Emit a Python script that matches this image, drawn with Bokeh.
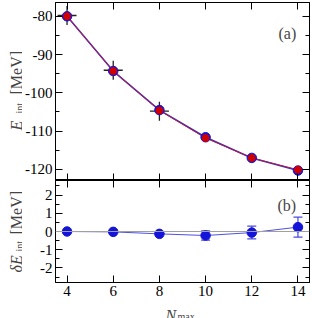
import math
from bokeh.plotting import figure
from bokeh.models import (Range1d, LinearAxis, FixedTicker, Label, Span,
                          ColumnDataSource, Whisker, TeeHead, CustomJSTickFormatter)
from bokeh.layouts import column, row
from bokeh.embed import file_html
from bokeh.resources import INLINE

# ---------------- data ----------------
nmax = [4, 6, 8, 10, 12, 14]
e_blue = [-80.0, -94.3, -104.5, -111.6, -117.0, -120.3]
e_red = [-80.0, -94.3, -104.6, -111.8, -117.0, -120.1]
cross_n = [4, 6, 8]
cross_e = [-79.8, -94.1, -104.8]
de = [0.0, -0.02, -0.13, -0.22, -0.06, 0.24]
de_err = [0.0, 0.0, 0.0, 0.25, 0.35, 0.55]

x_ticks = [4, 6, 8, 10, 12, 14]
y_ticks_top = [-120, -110, -100, -90, -80]
y_minor_top = [-125, -115, -105, -95, -85, -75]
y_ticks_bot = [-2, -1, 0, 1, 2]
y_minor_bot = [-2.5, -1.5, -0.5, 0.5, 1.5, 2.5]

FONT = "Liberation Serif"
BLUE = "#1414d8"
RED = "#d00000"


def style_axis(ax, ticks, minor, labels):
    ax.ticker = FixedTicker(ticks=ticks, minor_ticks=minor)
    ax.major_tick_in = 7
    ax.major_tick_out = 0
    ax.minor_tick_in = 4
    ax.minor_tick_out = 0
    ax.axis_line_color = "black"
    ax.major_tick_line_color = "black"
    ax.minor_tick_line_color = "black" if minor else None
    if labels:
        ax.formatter = CustomJSTickFormatter(code="return String(tick)")
        ax.major_label_text_font = FONT
        ax.major_label_text_font_size = "15px"
        ax.major_label_text_color = "black"
        ax.major_label_standoff = 3
    else:
        ax.major_label_text_color = None
        ax.major_label_text_font_size = "1px"
        ax.major_label_standoff = 0


def make_fig(height, yr, top_border, bottom_border):
    p = figure(width=290, height=height, x_range=Range1d(3.5, 14.5), y_range=yr,
               output_backend="svg", toolbar_location=None,
               x_axis_location=None, y_axis_location=None,
               min_border_left=32, min_border_right=3,
               min_border_top=top_border, min_border_bottom=bottom_border)
    p.outline_line_color = "black"
    p.background_fill_color = "white"
    p.border_fill_color = "white"
    p.xgrid.visible = False
    p.ygrid.visible = False
    return p


def strip(width, height):
    s = figure(width=width, height=height, x_range=Range1d(0, 1), y_range=Range1d(0, 1),
               output_backend="svg", toolbar_location=None, title=None,
               x_axis_location=None, y_axis_location=None,
               min_border_left=0, min_border_right=0, min_border_top=0, min_border_bottom=0)
    s.outline_line_color = None
    s.background_fill_color = "white"
    s.border_fill_color = "white"
    s.xgrid.visible = False
    s.ygrid.visible = False
    return s


def txt(p, x, y, text, size, italic=False, rotated=False, place=None):
    units = "canvas" if place else "screen"
    lab = Label(x=x, y=y, x_units=units, y_units=units, text=text,
                angle=math.pi / 2 if rotated else 0,
                text_font=FONT, text_font_style="italic" if italic else "normal",
                text_font_size=size, text_baseline="alphabetic", text_align="left")
    if place:
        p.add_layout(lab, place)
    else:
        p.add_layout(lab)


# ---------------- top panel ----------------
top = make_fig(180, Range1d(-122.9, -76.4), 2, 0)
for loc, lab in (("left", True), ("right", False)):
    ax = LinearAxis()
    style_axis(ax, y_ticks_top, y_minor_top, lab)
    top.add_layout(ax, loc)
for loc in ("above", "below"):
    ax = LinearAxis()
    style_axis(ax, x_ticks, [], False)
    top.add_layout(ax, loc)

top.scatter(cross_n, cross_e, marker="cross", size=19, line_color="#222222", line_width=1.3)
top.line(nmax, e_blue, line_color="#3030d0", line_width=1.6)
top.line(nmax, e_red, line_color="#c01838", line_width=1.0)
top.scatter(nmax, e_blue, size=9.5, fill_color=BLUE, line_color=BLUE)
top.scatter(nmax, e_red, size=7, fill_color=RED, line_color=RED)
txt(top, 223, 147, "(a)", "16px")

# ---------------- bottom panel ----------------
bot = make_fig(121, Range1d(-2.8, 2.8), 0, 19)
for loc, lab in (("left", True), ("right", False)):
    ax = LinearAxis()
    style_axis(ax, y_ticks_bot, y_minor_bot, lab)
    bot.add_layout(ax, loc)
for loc, lab in (("above", False), ("below", True)):
    ax = LinearAxis()
    style_axis(ax, x_ticks, [], lab)
    bot.add_layout(ax, loc)

bot.add_layout(Span(location=0, dimension="width", line_color="#a0a0a0", line_width=1))
eb_x = [n for n, e in zip(nmax, de_err) if e > 0]
eb_lo = [d - e for d, e in zip(de, de_err) if e > 0]
eb_hi = [d + e for d, e in zip(de, de_err) if e > 0]
src = ColumnDataSource(dict(x=eb_x, lo=eb_lo, hi=eb_hi))
bot.add_layout(Whisker(source=src, base="x", lower="lo", upper="hi", line_color="#4a4ae0",
                       line_width=1.2,
                       lower_head=TeeHead(size=9, line_color="#4a4ae0", line_width=1.2),
                       upper_head=TeeHead(size=9, line_color="#4a4ae0", line_width=1.2)))
bot.line(nmax, de, line_color="#5050e0", line_width=1.0)
bot.scatter(nmax, de, size=9.5, fill_color=BLUE, line_color=BLUE)
txt(bot, 222, 77, "(b)", "16px")

# ---------------- axis titles (strips; labels live in side panels, unclipped) ----------------
ystrip = strip(22, 318)
# E_int [MeV]
txt(ystrip, 16, 130, "E", "16px", italic=True, rotated=True, place="above")
txt(ystrip, 19, 113, "int", "10px", rotated=True, place="above")
txt(ystrip, 16, 94, "[MeV]", "16px", rotated=True, place="above")
# δE_int [MeV]
txt(ystrip, 16, 272, "δE", "16px", italic=True, rotated=True, place="above")
txt(ystrip, 19, 251, "int", "10px", rotated=True, place="above")
txt(ystrip, 16, 234, "[MeV]", "16px", rotated=True, place="above")

xstrip = strip(290, 17)
txt(xstrip, 143, 13.5, "N", "16px", italic=True, place="left")
txt(xstrip, 155, 14.5, "max", "10px", place="left")

layout = row(ystrip, column(top, bot, xstrip, spacing=0), spacing=0)
open("out.html", "w").write(file_html(layout, INLINE))
